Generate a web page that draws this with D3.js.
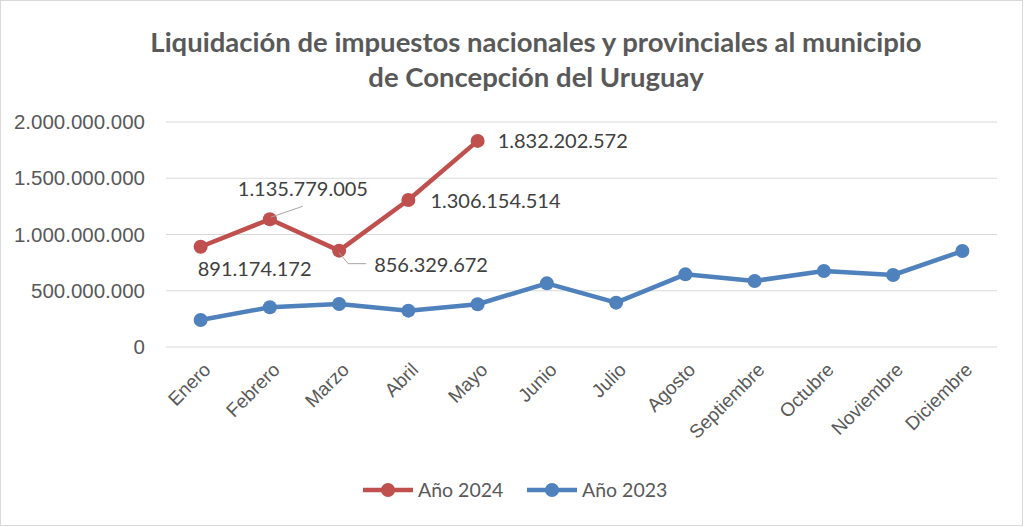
<!DOCTYPE html>
<html>
<head>
<meta charset="utf-8">
<script src="https://cdn.jsdelivr.net/npm/d3@7"></script>
<style>
  body { margin: 0; background: #fff; }
  svg { display: block; font-family: Lato, 'Open Sans', sans-serif; }
</style>
</head>
<body>
<svg id="chart" width="1024" height="527"></svg>
<script>
// data
const months = ['Enero', 'Febrero', 'Marzo', 'Abril', 'Mayo', 'Junio', 'Julio',
  'Agosto', 'Septiembre', 'Octubre', 'Noviembre', 'Diciembre']
const values2024 = [891174172, 1135779005, 856329672, 1306154514, 1832202572]
const values2023 = [240000000, 353000000, 382000000, 323000000, 380000000, 566000000,
  394000000, 646000000, 587000000, 676000000, 640000000, 853000000]
const yTicks = [0, 500000000, 1000000000, 1500000000, 2000000000]
const titleLines = ['Liquidación de impuestos nacionales y provinciales al municipio',
  'de Concepción del Uruguay']
const seriesNames = ['Año 2024', 'Año 2023']

const colors = { red: '#c0504d', blue: '#4f81bd', grid: '#d9d9d9', text: '#595959', label: '#404040' }
const margin = { top: 122, right: 27, bottom: 180, left: 166 }
const width = 1024 - margin.left - margin.right
const height = 527 - margin.top - margin.bottom

const fmt = v => v === 0 ? '0' : d3.format(',')(v).replace(/,/g, '.')

const svg = d3.select('#chart')

// outer frame
svg.append('rect')
  .attr('x', 0.5).attr('y', 0.5)
  .attr('width', 1022).attr('height', 525)
  .attr('fill', 'none').attr('stroke', colors.grid)

// title
svg.append('text')
  .attr('x', 536)
  .attr('text-anchor', 'middle')
  .attr('font-size', 27.5).attr('font-weight', 'bold')
  .attr('fill', colors.text)
  .selectAll('tspan')
  .data(titleLines)
  .enter().append('tspan')
  .attr('x', 536)
  .attr('y', (d, i) => 52 + i * 35)
  .text(d => d)

const g = svg.append('g')
  .attr('transform', 'translate(' + margin.left + ',' + margin.top + ')')

const x = d3.scaleBand().domain(months).range([0, width])
const y = d3.scaleLinear().domain([0, 2000000000]).range([height, 0])
const cx = m => x(m) + x.bandwidth() / 2

// grid
g.append('g')
  .selectAll('line')
  .data(yTicks)
  .enter().append('line')
  .attr('x1', 0).attr('x2', width)
  .attr('y1', d => y(d)).attr('y2', d => y(d))
  .attr('stroke', colors.grid).attr('stroke-width', 1)

// y axis labels
g.append('g')
  .call(d3.axisLeft(y).tickValues(yTicks).tickFormat(fmt).tickSize(0).tickPadding(21))
  .call(a => a.select('.domain').remove())
  .selectAll('text')
  .attr('font-size', 20.5).attr('fill', colors.text).attr('font-family', 'inherit')

// x axis labels
g.append('g')
  .attr('transform', 'translate(0,' + height + ')')
  .call(d3.axisBottom(x).tickSize(0))
  .call(a => a.select('.domain').remove())
  .selectAll('text')
  .attr('font-size', 19).attr('fill', colors.text).attr('font-family', 'inherit')
  .attr('text-anchor', 'end')
  .attr('dy', 0)
  .attr('transform', 'translate(9,22) rotate(-45)')

const line = d3.line()
  .x((d, i) => cx(months[i]))
  .y(d => y(d))

function drawSeries (data, color) {
  g.append('path')
    .datum(data)
    .attr('d', line)
    .attr('fill', 'none')
    .attr('stroke', color)
    .attr('stroke-width', 4.5)
    .attr('stroke-linejoin', 'round')
  g.append('g')
    .selectAll('circle')
    .data(data)
    .enter().append('circle')
    .attr('cx', (d, i) => cx(months[i]))
    .attr('cy', d => y(d))
    .attr('r', 7)
    .attr('fill', color)
}

drawSeries(values2023, colors.blue)
drawSeries(values2024, colors.red)

// data labels for 2024: offsets from the point, anchor, optional leader line
const labelPos = [
  { dx: 54, dy: 22, anchor: 'middle', leader: null },
  { dx: 33, dy: -30, anchor: 'middle', leader: [[1, -2], [33, -13]] },
  { dx: 35, dy: 14, anchor: 'start', leader: [[0, 2], [9, 13], [27, 13]] },
  { dx: 22, dy: 1, anchor: 'start', leader: null },
  { dx: 20, dy: 0, anchor: 'start', leader: null }
]

const labels = g.append('g')
values2024.forEach((v, i) => {
  const px = cx(months[i])
  const py = y(v)
  const p = labelPos[i]
  if (p.leader) {
    labels.append('path')
      .attr('d', d3.line()(p.leader.map(q => [px + q[0], py + q[1]])))
      .attr('fill', 'none')
      .attr('stroke', '#a6a6a6')
      .attr('stroke-width', 1)
  }
  labels.append('text')
    .attr('x', px + p.dx)
    .attr('y', py + p.dy)
    .attr('dy', '0.35em')
    .attr('text-anchor', p.anchor)
    .attr('font-size', 20)
    .attr('fill', colors.label)
    .text(fmt(v))
})

// legend
const legend = svg.append('g').attr('transform', 'translate(363,490)')
const items = legend.selectAll('g')
  .data(seriesNames)
  .enter().append('g')
  .attr('transform', (d, i) => 'translate(' + i * 164 + ',0)')
items.append('line')
  .attr('x1', 0).attr('x2', 50)
  .attr('stroke', (d, i) => i === 0 ? colors.red : colors.blue)
  .attr('stroke-width', 4.5)
items.append('circle')
  .attr('cx', 25).attr('r', 7)
  .attr('fill', (d, i) => i === 0 ? colors.red : colors.blue)
items.append('text')
  .attr('x', 55).attr('dy', '0.35em')
  .attr('font-size', 19.5)
  .attr('fill', colors.text)
  .text(d => d)
</script>
</body>
</html>
